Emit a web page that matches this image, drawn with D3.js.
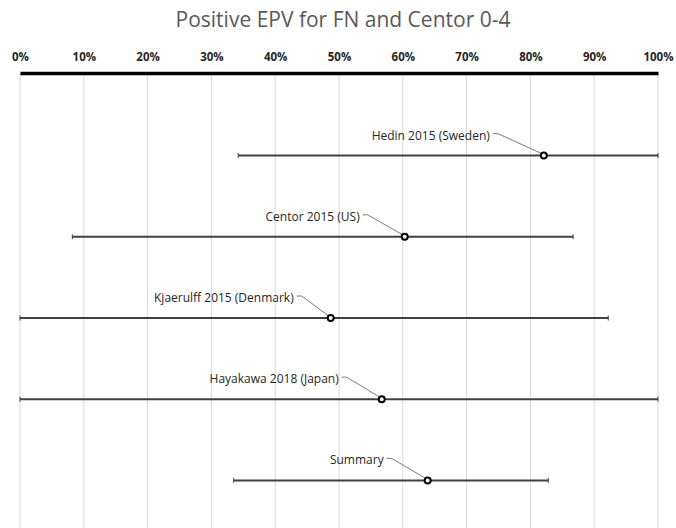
<!DOCTYPE html>
<html><head><meta charset="utf-8">
<script src="https://cdn.jsdelivr.net/npm/d3@7"></script>
<style>html,body{margin:0;padding:0;background:#fff;}</style>
</head><body>
<svg id="c" width="676" height="528"></svg>
<script>
const studies = ["Hedin 2015 (Sweden)", "Centor 2015 (US)", "Kjaerulff 2015 (Denmark)", "Hayakawa 2018 (Japan)", "Summary"];
const estimate = [0.821, 0.603, 0.487, 0.567, 0.639];
const lower = [0.342, 0.082, 0.0, 0.0, 0.335];
const upper = [1.0, 0.867, 0.922, 1.0, 0.828];
const tickValues = [0, 0.1, 0.2, 0.3, 0.4, 0.5, 0.6, 0.7, 0.8, 0.9, 1.0];
// layout: horizontal shift of each data label's right edge from its point
const labelShift = [-54, -45, -37, -43, -44];

const svg = d3.select("#c");
const W = 676, H = 528;
const x = d3.scaleLinear().domain([0, 1]).range([20, 658]);
const y = d3.scaleBand().domain(studies).range([115, 521]);

svg.append("text").attr("x", W/2 + 5).attr("y", 27).attr("text-anchor", "middle")
  .attr("font-family", "Open Sans").attr("font-size", 21).attr("fill", "#595959")
  .text("Positive EPV for FN and Centor 0-4");

// gridlines
svg.append("g").selectAll("line").data(tickValues).join("line")
  .attr("x1", d => x(d)).attr("x2", d => x(d)).attr("y1", 73).attr("y2", H)
  .attr("stroke", "#d9d9d9").attr("stroke-width", 1);

// axis
const ax = svg.append("g").attr("transform", "translate(0,73)")
  .call(d3.axisTop(x).tickValues(tickValues).tickFormat(d3.format(".0%")).tickSize(0).tickPadding(12));
ax.select(".domain").attr("stroke", "#000").attr("stroke-width", 3.5);
ax.selectAll("text").attr("font-family", "Open Sans").attr("font-weight", "bold")
  .attr("font-size", 11.5).attr("fill", "#262626");

const cy = d => y(d) + y.bandwidth()/2;

const g = svg.append("g");
studies.forEach((s, i) => {
  const yy = cy(s);
  g.append("line").attr("x1", x(lower[i])).attr("x2", x(upper[i])).attr("y1", yy).attr("y2", yy)
    .attr("stroke", "#404040").attr("stroke-width", 2);
  [lower[i], upper[i]].forEach(v => {
    g.append("line").attr("x1", x(v)).attr("x2", x(v)).attr("y1", yy-2.5).attr("y2", yy+2.5)
      .attr("stroke", "#404040").attr("stroke-width", 1);
  });
  const px = x(estimate[i]);
  const tx = px + labelShift[i];
  const ty = yy - 20;
  g.append("path")
    .attr("d", `M${tx+3},${ty-2}L${tx+8},${ty-2}L${px-2},${yy-2}`)
    .attr("fill", "none").attr("stroke", "#595959").attr("stroke-width", 0.8);
  g.append("text").attr("x", tx).attr("y", ty + 4).attr("text-anchor", "end")
    .attr("font-family", "Open Sans").attr("font-size", 12).attr("fill", "#262626").text(s);
  g.append("circle").attr("cx", px).attr("cy", yy).attr("r", 3)
    .attr("fill", "#fff").attr("stroke", "#000").attr("stroke-width", 2);
});
</script>
</body></html>
